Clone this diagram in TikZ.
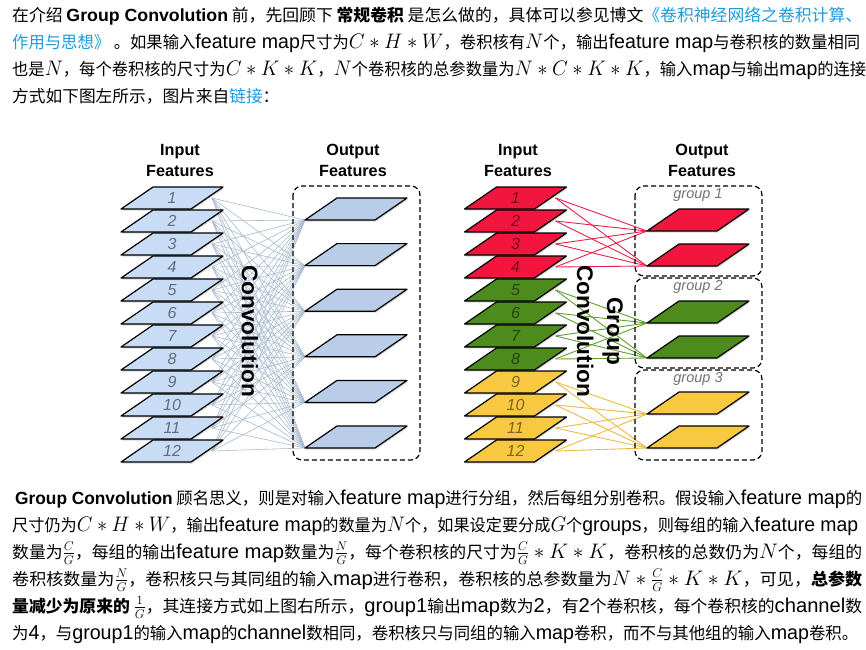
\documentclass[tikz,border=0pt]{standalone}
\usepackage{fix-cm}
\usepackage[no-math]{fontspec}
\usepackage{graphicx}
\setmainfont{Noto Sans CJK SC}
\newfontfamily\hv{Liberation Sans}
\newfontfamily\en{Liberation Sans}[Scale=1.2]
\usetikzlibrary{shadows}
\definecolor{inblue}{HTML}{C9DCF6}
\definecolor{outblue}{HTML}{B9CDE9}
\definecolor{convline}{HTML}{A9BBCF}
\definecolor{gred}{HTML}{F2163F}
\definecolor{ggreen}{HTML}{4D8B1D}
\definecolor{gyellow}{HTML}{F8C940}
\definecolor{redline}{HTML}{EC1F48}
\definecolor{greenline}{HTML}{5F9F2E}
\definecolor{yellowline}{HTML}{EBBB45}
\definecolor{linkblue}{HTML}{1E9BDA}
\newcommand\lk[1]{\textcolor{linkblue}{#1}}
\newcommand\mth[1]{{\fontsize{21}{21}\selectfont$#1$}}
\newcommand\frc[2]{{\fontsize{18}{18}\selectfont$\frac{#1}{#2}$}}
\newcommand\gcv{{\hv\bfseries\fontsize{17.6}{20}\selectfont Group Convolution}}
\begin{document}
\begin{tikzpicture}[x=1pt,y=-1pt,
  txt/.style={anchor=base west,inner sep=0,font=\fontsize{16.7}{20}\selectfont},
  head/.style={align=center,inner sep=0,font=\hv\bfseries\fontsize{16.2}{21}\selectfont},
  convtext/.style={align=center,inner sep=0,rotate=-90,font=\hv\bfseries\fontsize{22.6}{30}\selectfont},
  num/.style={inner sep=0,text=black,text opacity=.5,font=\hv\itshape\fontsize{16}{16}\selectfont},
  grplbl/.style={inner sep=0,text=black!55,font=\hv\itshape\fontsize{14.5}{15}\selectfont},
  fmap/.style={draw=black,line width=1.2pt,line join=round,
    drop shadow={shadow xshift=1pt,shadow yshift=-1.5pt,opacity=.3}},
  dashbox/.style={draw=black,line width=1.2pt,dash pattern=on 5pt off 3pt,rounded corners=9pt},
  fullconv/.style={convline,line width=.6pt},
  grpline/.style={line width=.9pt}]
  \useasboundingbox[fill=white] (0,0) rectangle (866,649);

  \node[txt] (t1) at (12,21) {\resizebox{850pt}{\height}{在介绍 \gcv{} 前，先回顾下 \textbf{常规卷积} 是怎么做的，具体可以参见博文\lk{《卷积神经网络之卷积计算、}}};
  \node[txt] (t2) at (12,48) {\resizebox{848pt}{\height}{\lk{作用与思想》} 。如果输入{\en feature map}尺寸为\mth{C*H*W}，卷积核有\mth{N}个，输出{\en feature map}与卷积核的数量相同}};
  \node[txt] (t3) at (12,75) {\resizebox{854pt}{\height}{也是\mth{N}，每个卷积核的尺寸为\mth{C*K*K}，\mth{N}个卷积核的总参数量为\mth{N*C*K*K}，输入{\en map}与输出{\en map}的连接}};
  \node[txt] (t4) at (12,102) {方式如下图左所示，图片来自\lk{链接}：};

  \node[txt] (b1) at (15,504) {\resizebox{847pt}{\height}{\gcv{} 顾名思义，则是对输入{\en feature map}进行分组，然后每组分别卷积。假设输入{\en feature map}的}};
  \node[txt] (b2) at (12,531) {\resizebox{846pt}{\height}{尺寸仍为\mth{C*H*W}，输出{\en feature map}的数量为\mth{N}个，如果设定要分成\mth{G}个{\en groups}，则每组的输入{\en feature map}}};
  \node[txt] (b3) at (12,558) {\resizebox{850pt}{\height}{数量为\frc{C}{G}，每组的输出{\en feature map}数量为\frc{N}{G}，每个卷积核的尺寸为\frc{C}{G}\mth{{}*K*K}，卷积核的总数仍为\mth{N}个，每组的}};
  \node[txt] (b4) at (12,585) {\resizebox{850pt}{\height}{卷积核数量为\frc{N}{G}，卷积核只与其同组的输入{\en map}进行卷积，卷积核的总参数量为\mth{N*{}}\frc{C}{G}\mth{{}*K*K}，可见，\textbf{总参数}}};
  \node[txt] (b5) at (12,612) {\resizebox{850pt}{\height}{\textbf{量减少为原来的} \frc{1}{G}，其连接方式如上图右所示，{\en group1}输出{\en map}数为{\en 2}，有{\en 2}个卷积核，每个卷积核的{\en channel}数}};
  \node[txt] (b6) at (12,639) {\resizebox{846pt}{\height}{为{\en 4}，与{\en group1}的输入{\en map}的{\en channel}数相同，卷积核只与同组的输入{\en map}卷积，而不与其他组的输入{\en map}卷积。}};

  \node[head] (inA) at (180,160) {Input\\Features};
  \node[head] (outA) at (353,160) {Output\\Features};
  \node[head] (inB) at (518,160) {Input\\Features};
  \node[head] (outB) at (702,160) {Output\\Features};

  \foreach \i in {1,...,12}{
    \coordinate (a\i) at (172,{175+23*\i});
    \coordinate (as\i) at (212,{175+23*\i});
    \coordinate (c\i) at (515.5,{175+23*\i});
    \coordinate (cs\i) at (555.5,{175+23*\i});
  }
  \foreach \j in {1,...,6}{
    \coordinate (b\j) at (356,{163.4+45.6*\j});
    \coordinate (be\j) at (305,{174.4+45.6*\j});
  }
  \foreach \j/\y in {1/220,2/255,3/312,4/347,5/403,6/437}{
    \coordinate (d\j) at (698,\y);
    \coordinate (de\j) at (647,\y+11);
  }

  \foreach \i in {1,...,12}
    \foreach \j in {1,...,6}
      \draw[fullconv] (as\i) -- (be\j);
  \foreach \g/\col in {0/redline,1/greenline,2/yellowline}
    \foreach \i in {1,...,4}
      \foreach \j in {1,2}{
        \pgfmathtruncatemacro\ii{4*\g+\i}
        \pgfmathtruncatemacro\jj{2*\g+\j}
        \draw[grpline,\col] (cs\ii) -- (de\jj);
      }

  \draw[dashbox] (293,186) rectangle (420,460);
  \foreach \g/\top/\bot in {1/186/276,2/278/368,3/370/460}{
    \draw[dashbox] (635,\top) rectangle (762,\bot);
    \node[grplbl] (grp\g) at (698,\top+9) {group \g};
  }

  \foreach \i in {1,...,12}{
    \draw[fmap,fill=inblue,shift={(a\i)}] (-51,11) -- (19,11) -- (51,-11) -- (-19,-11) -- cycle;
    \node[num] (na\i) at (a\i) {\i};
  }
  \foreach \j in {1,...,6}
    \draw[fmap,fill=outblue,shift={(b\j)}] (-51,11) -- (19,11) -- (51,-11) -- (-19,-11) -- cycle;

  \foreach \g/\col in {0/gred,1/ggreen,2/gyellow}{
    \foreach \k in {1,...,4}{
      \pgfmathtruncatemacro\ii{4*\g+\k}
      \draw[fmap,fill=\col,shift={(c\ii)}] (-51,11) -- (19,11) -- (51,-11) -- (-19,-11) -- cycle;
      \node[num] (nc\ii) at (c\ii) {\ii};
    }
    \foreach \k in {1,2}{
      \pgfmathtruncatemacro\jj{2*\g+\k}
      \draw[fmap,fill=\col,shift={(d\jj)}] (-51,11) -- (19,11) -- (51,-11) -- (-19,-11) -- cycle;
    }
  }

  \node[convtext] (conv) at (250,331) {Convolution};
  \node[convtext] (gconv) at (600,331) {Group\\Convolution};
\end{tikzpicture}
\end{document}
